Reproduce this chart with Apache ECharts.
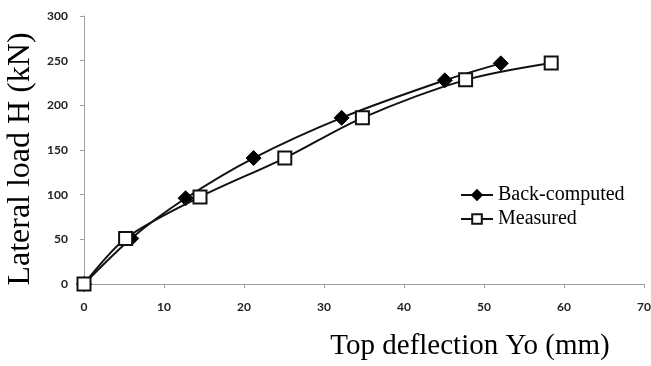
<!DOCTYPE html>
<html>
<head>
<meta charset="utf-8">
<script src="https://cdn.jsdelivr.net/npm/echarts@6/dist/echarts.min.js"></script>
<style>
html,body{margin:0;padding:0;background:#fff;}
#chart{width:651px;height:366px;}
</style>
</head>
<body>
<div id="chart"></div>
<script>
var seriesNames = ['Back-computed', 'Measured'];
var backX = [0, 5.9, 12.7, 21.2, 32.2, 45.1, 52.1];
var backY = [0, 51, 96, 141, 186, 228, 247];
var measX = [0, 5.2, 14.5, 25.1, 34.8, 47.7, 58.4];
var measY = [0, 51, 97.5, 141, 186, 228.5, 247.5];
var xTitle = 'Top deflection Yo (mm)';
var yTitle = 'Lateral load H (kN)';

function pairs(xs, ys) { return xs.map(function (x, i) { return [x, ys[i]]; }); }

var chart = echarts.init(document.getElementById('chart'), null, {renderer: 'canvas'});
var serif = '"Liberation Serif", "Times New Roman", serif';
var tickFont = {fontFamily: 'Lato, "Open Sans", sans-serif', fontWeight: 'bold', fontSize: 12, color: '#222'};
chart.setOption({
  animation: false,
  backgroundColor: '#fff',
  grid: {left: 84, right: 7, top: 16, bottom: 82, containLabel: false, outerBoundsMode: 'none'},
  legend: {
    data: seriesNames,
    orient: 'vertical',
    left: 455, top: 180,
    itemWidth: 32, itemHeight: 12, itemGap: 4,
    textStyle: {fontFamily: serif, fontSize: 20, color: '#000'}
  },
  xAxis: {
    type: 'value', min: 0, max: 70, interval: 10,
    name: xTitle, nameLocation: 'middle', nameGap: 48,
    nameTextStyle: {fontFamily: serif, fontSize: 29, color: '#000', padding: [0, 0, 0, 212]},
    axisLine: {lineStyle: {color: '#a0a0a0', width: 1}},
    axisTick: {show: true, length: 4, lineStyle: {color: '#a0a0a0'}},
    axisLabel: Object.assign({margin: 17}, tickFont),
    splitLine: {show: false}
  },
  yAxis: {
    type: 'value', min: 0, max: 300, interval: 50,
    name: yTitle, nameLocation: 'middle', nameGap: 47,
    nameTextStyle: {fontFamily: serif, fontSize: 32, color: '#000', padding: [0, 18, 0, 0]},
    axisLine: {show: true, lineStyle: {color: '#a0a0a0', width: 1}},
    axisTick: {show: true, length: 4, lineStyle: {color: '#a0a0a0'}},
    axisLabel: Object.assign({margin: 16}, tickFont),
    splitLine: {show: false}
  },
  series: [
    {
      name: seriesNames[0], type: 'line', smooth: 0.3,
      data: pairs(backX, backY),
      symbol: 'diamond', symbolSize: 15,
      itemStyle: {color: '#000', borderColor: '#000', borderWidth: 1},
      lineStyle: {color: '#111', width: 2},
      z: 2
    },
    {
      name: seriesNames[1], type: 'line', smooth: 0.3,
      data: pairs(measX, measY),
      symbol: 'rect', symbolSize: 13,
      itemStyle: {color: '#fff', borderColor: '#111', borderWidth: 2},
      lineStyle: {color: '#111', width: 2},
      z: 3
    }
  ]
});
</script>
</body>
</html>
